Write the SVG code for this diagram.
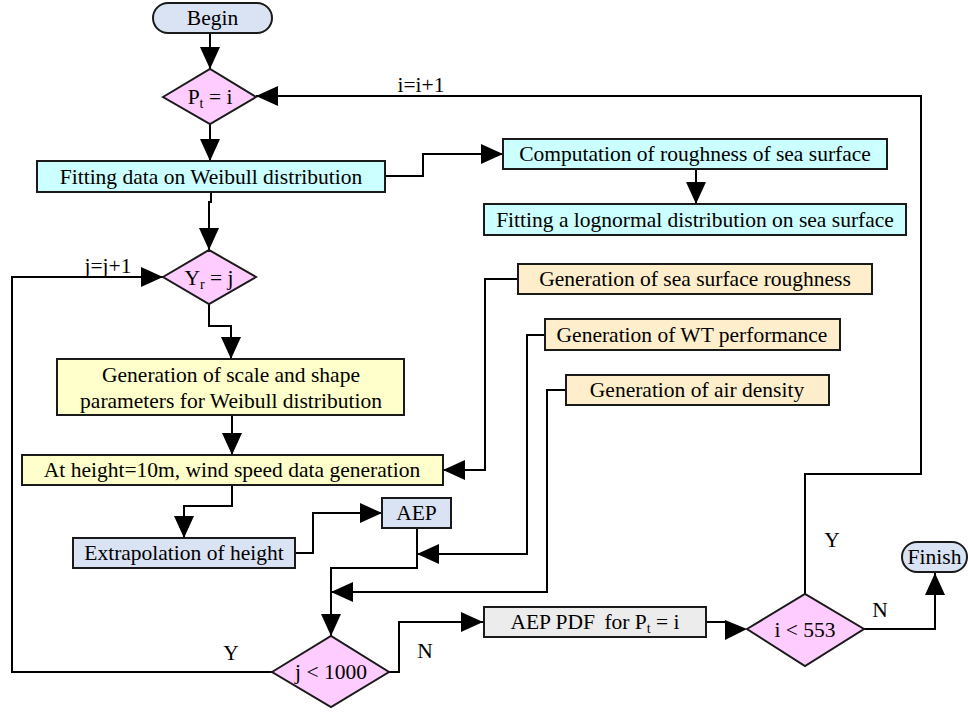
<svg xmlns="http://www.w3.org/2000/svg" width="968" height="712" viewBox="0 0 968 712">
<style>
  .n { stroke: #1a1a1a; stroke-width: 2; }
  .t { font-family: "Liberation Serif", "Times New Roman", serif; font-size: 21.5px; fill: #000; text-anchor: middle; }
  .lbl { font-family: "Liberation Serif", "Times New Roman", serif; font-size: 21.5px; fill: #000; text-anchor: middle; }
  .sub { font-size: 14px; }
  .c { fill: none; stroke: #000; stroke-width: 2; }
  .blue { fill: #dae3f3; }
  .pink { fill: #ffccff; }
  .cyan { fill: #ccffff; }
  .yel { fill: #ffffcc; }
  .beige { fill: #ffeecc; }
  .gray { fill: #ececec; }
</style>
<defs>
  <marker id="ah" viewBox="0 0 22 20" markerWidth="22" markerHeight="20" refX="22" refY="10" orient="auto" markerUnits="userSpaceOnUse">
    <path d="M0,0 L22,10 L0,20 z" fill="#000"/>
  </marker>
</defs>
<rect width="968" height="712" fill="#fff"/>

<g id="connectors">
  <path class="c" d="M210,33 V69" marker-end="url(#ah)"/>
  <path class="c" d="M805,594 V474 H921 V96 H256" marker-end="url(#ah)"/>
  <path class="c" d="M210,124 V161" marker-end="url(#ah)"/>
  <path class="c" d="M385,176 H423 V154 H503" marker-end="url(#ah)"/>
  <path class="c" d="M696,169 V204" marker-end="url(#ah)"/>
  <path class="c" d="M211,192 V202 H209 V250" marker-end="url(#ah)"/>
  <path class="c" d="M209,304 V326 H231 V359" marker-end="url(#ah)"/>
  <path class="c" d="M232,415 V455" marker-end="url(#ah)"/>
  <path class="c" d="M518,279 H485 V470 H443" marker-end="url(#ah)"/>
  <path class="c" d="M545,335 H527 V554 H417" marker-end="url(#ah)"/>
  <path class="c" d="M566,390 H547 V592 H331" marker-end="url(#ah)"/>
  <path class="c" d="M232,485 V506 H184 V538" marker-end="url(#ah)"/>
  <path class="c" d="M295,553 H313 V513 H382" marker-end="url(#ah)"/>
  <path class="c" d="M417,528 V568 H331 V636" marker-end="url(#ah)"/>
  <path class="c" d="M272,672 H12 V277 H163" marker-end="url(#ah)"/>
  <path class="c" d="M389,672 H399 V622 H483" marker-end="url(#ah)"/>
  <path class="c" d="M706,622 H726"/>
  <path d="M725,620 L747,629 L725,640 z" fill="#000"/>
  <path class="c" d="M864,629 H935 V573" marker-end="url(#ah)"/>
  <text class="lbl" x="421" y="92">i=i+1</text>
  <text class="lbl" x="108" y="273">j=j+1</text>
  <text class="lbl" x="231" y="660">Y</text>
  <text class="lbl" x="425" y="658">N</text>
  <text class="lbl" x="832" y="547">Y</text>
  <text class="lbl" x="880" y="617">N</text>
</g>

<g id="begin">
  <rect class="n blue" x="153" y="3" width="119" height="30" rx="15"/>
  <text class="t" x="212.5" y="25">Begin</text>
</g>
<g id="pt-decision">
  <polygon class="n pink" points="163,97 210,69 256,97 210,124"/>
  <text class="t" x="210" y="104">P<tspan class="sub" dy="4">t</tspan><tspan dy="-4"> = i</tspan></text>
</g>
<g id="weibull-fit">
  <rect class="n cyan" x="37" y="161" width="348" height="31"/>
  <text class="t" x="211" y="184">Fitting data on Weibull distribution</text>
</g>
<g id="roughness">
  <rect class="n cyan" x="503" y="139" width="384" height="30"/>
  <text class="t" x="695" y="161">Computation of roughness of sea surface</text>
</g>
<g id="lognormal">
  <rect class="n cyan" x="484" y="204" width="422" height="31"/>
  <text class="t" x="695" y="227">Fitting a lognormal distribution on sea surface</text>
</g>
<g id="yr-decision">
  <polygon class="n pink" points="163,277 209,250 256,277 209,304"/>
  <text class="t" x="209" y="285">Y<tspan class="sub" dy="4">r</tspan><tspan dy="-4"> = j</tspan></text>
</g>
<g id="gen-roughness">
  <rect class="n beige" x="518" y="264" width="354" height="30"/>
  <text class="t" x="695" y="286">Generation of sea surface roughness</text>
</g>
<g id="gen-wt">
  <rect class="n beige" x="545" y="319" width="295" height="31"/>
  <text class="t" x="692" y="342">Generation of WT performance</text>
</g>
<g id="gen-air">
  <rect class="n beige" x="566" y="375" width="263" height="30"/>
  <text class="t" x="697" y="397">Generation of air density</text>
</g>
<g id="scale-shape">
  <rect class="n yel" x="57" y="359" width="347" height="56"/>
  <text class="t" x="231" y="382">Generation of scale and shape</text>
  <text class="t" x="231" y="408">parameters for Weibull distribution</text>
</g>
<g id="wind-speed">
  <rect class="n yel" x="22" y="455" width="421" height="30"/>
  <text class="t" x="232" y="477">At height=10m, wind speed data generation</text>
</g>
<g id="extrapolation">
  <rect class="n blue" x="73" y="538" width="222" height="30"/>
  <text class="t" x="184" y="560">Extrapolation of height</text>
</g>
<g id="aep">
  <rect class="n blue" x="382" y="498" width="69" height="30"/>
  <text class="t" x="416.5" y="520">AEP</text>
</g>
<g id="j-decision">
  <polygon class="n pink" points="272,672 331,636 389,672 331,707"/>
  <text class="t" x="331" y="679">j &lt; 1000</text>
</g>
<g id="aep-pdf">
  <rect class="n gray" x="484" y="607" width="222" height="30"/>
  <text class="t" x="595" y="629">AEP PDF <tspan dx="4">for P</tspan><tspan class="sub" dy="4">t</tspan><tspan dy="-4"> = i</tspan></text>
</g>
<g id="i-decision">
  <polygon class="n pink" points="747,629 805,594 864,629 805,666"/>
  <text class="t" x="805" y="637">i &lt; 553</text>
</g>
<g id="finish">
  <rect class="n blue" x="902" y="542" width="65" height="30" rx="15"/>
  <text class="t" x="934.5" y="564">Finish</text>
</g>
</svg>
